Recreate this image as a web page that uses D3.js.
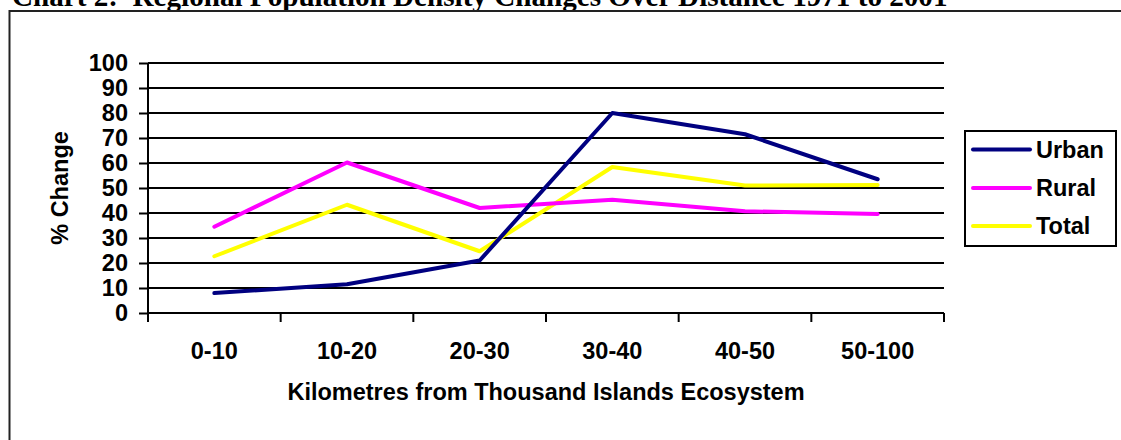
<!DOCTYPE html>
<html>
<head>
<meta charset="utf-8">
<script src="https://cdn.jsdelivr.net/npm/d3@7"></script>
<style>
  html, body { margin: 0; padding: 0; background: #fff; }
  svg { display: block; }
  .lbl { font-family: Arial, "Liberation Sans", sans-serif; font-weight: bold; font-size: 23.5px; fill: #000; }
</style>
</head>
<body>
<svg id="chart" width="1121" height="440"></svg>
<script>
// Distance bands (km) from the Thousand Islands ecosystem
const categories = ["0-10", "10-20", "20-30", "30-40", "40-50", "50-100"];

// Percent change in population density, 1971 to 2001
const urban = [8, 11.5, 21, 80, 71.5, 53.5];
const rural = [34.5, 60.2, 42, 45.3, 40.7, 39.6];
const total = [22.7, 43.3, 24.7, 58.4, 51, 51.2];

const seriesNames = ["Urban", "Rural", "Total"];
const seriesColors = ["#000080", "#ff00ff", "#ffff00"];
const yTicks = [0, 10, 20, 30, 40, 50, 60, 70, 80, 90, 100];

const titleText = "Chart 2:  Regional Population Density Changes Over Distance 1971 to 2001";
const xTitle = "Kilometres from Thousand Islands Ecosystem";
const yTitle = "% Change";

const svg = d3.select("#chart");

// Title (runs off the top edge of the page)
const title = svg.append("text")
  .attr("x", 12).attr("y", 5.5)
  .attr("font-family", "'Liberation Serif', 'Times New Roman', serif")
  .attr("font-weight", "bold")
  .attr("font-size", 24)
  .attr("xml:space", "preserve")
  .text(titleText);
const tw = title.node().getComputedTextLength();
title.attr("font-size", 24 * 936 / tw);

// Outer chart frame
svg.append("path")
  .attr("d", "M9.5,445 V11 H1130")
  .attr("fill", "none")
  .attr("stroke", "#222")
  .attr("stroke-width", 2);

const plot = { left: 148, right: 944, top: 63, bottom: 313 };

const x = d3.scaleBand().domain(categories).range([plot.left, plot.right]);
const y = d3.scaleLinear().domain([0, 100]).range([plot.bottom, plot.top]);

const g = svg.append("g");

// Horizontal gridlines
g.selectAll("line.grid").data(yTicks).join("line")
  .attr("class", "grid")
  .attr("x1", plot.left).attr("x2", plot.right)
  .attr("y1", d => y(d)).attr("y2", d => y(d))
  .attr("stroke", "#000").attr("stroke-width", 2);

// Y axis
const yAxis = g.append("g")
  .attr("transform", `translate(${plot.left},0)`)
  .call(d3.axisLeft(y).tickValues(yTicks).tickSize(9).tickPadding(11));
yAxis.select(".domain").attr("stroke", "#000").attr("stroke-width", 2)
  .attr("d", `M0,${plot.top}V${plot.bottom + 9}`);
yAxis.selectAll(".tick line").attr("stroke", "#000").attr("stroke-width", 2);
yAxis.selectAll(".tick text").attr("class", "lbl").attr("font-size", null).attr("font-family", null).attr("fill", null);

// X axis with ticks on band boundaries
const xAxis = g.append("g").attr("transform", `translate(0,${plot.bottom})`);
xAxis.append("line")
  .attr("x1", plot.left).attr("x2", plot.right)
  .attr("stroke", "#000").attr("stroke-width", 2);
const bounds = categories.map(c => x(c)).concat([plot.right]);
xAxis.selectAll("line.tk").data(bounds).join("line")
  .attr("class", "tk")
  .attr("x1", d => d).attr("x2", d => d)
  .attr("y1", 0).attr("y2", 9)
  .attr("stroke", "#000").attr("stroke-width", 2);
xAxis.selectAll("text").data(categories).join("text")
  .attr("class", "lbl")
  .attr("x", d => x(d) + x.bandwidth() / 2)
  .attr("y", 46)
  .attr("text-anchor", "middle")
  .text(d => d);

// Axis titles
svg.append("text").attr("class", "lbl")
  .attr("x", (plot.left + plot.right) / 2).attr("y", 400)
  .attr("text-anchor", "middle")
  .text(xTitle);
svg.append("text").attr("class", "lbl")
  .attr("transform", `translate(68,${(plot.top + plot.bottom) / 2}) rotate(-90)`)
  .attr("text-anchor", "middle")
  .text(yTitle);

// Series lines
const allSeries = [urban, rural, total];
const line = d3.line()
  .x((d, i) => x(categories[i]) + x.bandwidth() / 2)
  .y(d => y(d));
// draw Total first, then Rural, Urban on top
[2, 1, 0].forEach(k => {
  g.append("path")
    .datum(allSeries[k])
    .attr("d", line)
    .attr("fill", "none")
    .attr("stroke", seriesColors[k])
    .attr("stroke-width", 4)
    .attr("stroke-linejoin", "round")
    .attr("stroke-linecap", "round");
});

// Legend
const legend = svg.append("g");
legend.append("rect")
  .attr("x", 965).attr("y", 131).attr("width", 151).attr("height", 115)
  .attr("fill", "#fff").attr("stroke", "#000").attr("stroke-width", 2);
const legendY = [149.5, 188, 226];
seriesNames.forEach((name, i) => {
  legend.append("line")
    .attr("x1", 973).attr("x2", 1030)
    .attr("y1", legendY[i]).attr("y2", legendY[i])
    .attr("stroke", seriesColors[i]).attr("stroke-width", 4)
    .attr("stroke-linecap", "round");
  legend.append("text").attr("class", "lbl")
    .attr("x", 1036).attr("y", legendY[i])
    .attr("dy", "0.36em")
    .text(name);
});
</script>
</body>
</html>
